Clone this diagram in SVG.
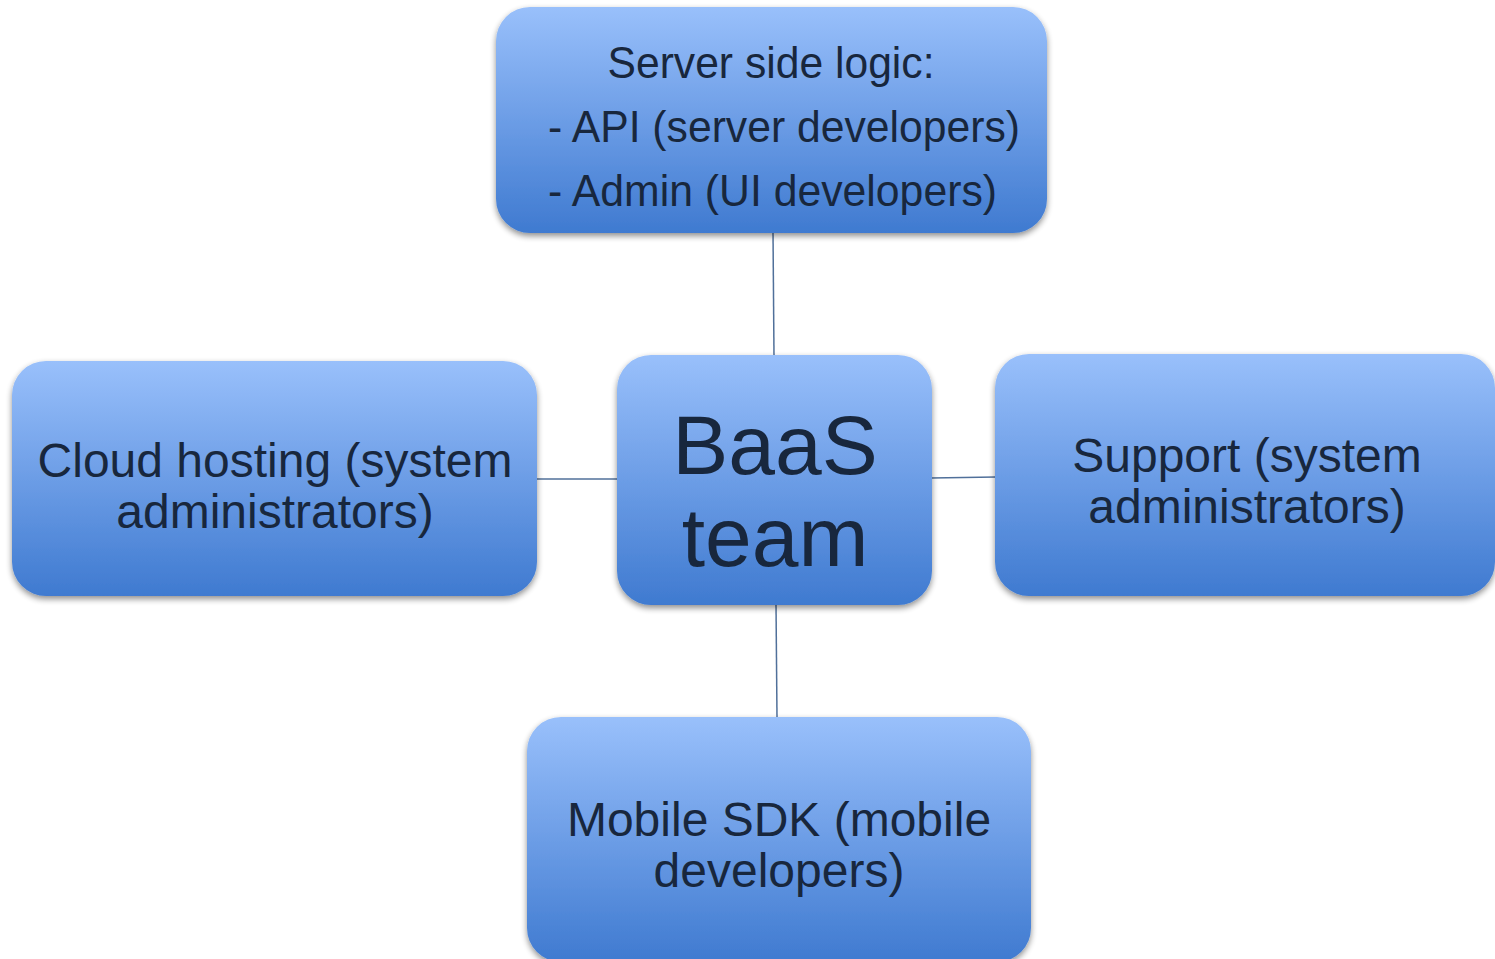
<svg xmlns="http://www.w3.org/2000/svg" width="1495" height="959" viewBox="0 0 1495 959">
<style>
.box{fill:url(#g);filter:url(#sh)}
.t{font-family:"Liberation Sans",Arial,sans-serif;fill:#18273d}
.m{font-size:48px;text-anchor:middle}
.s{font-size:44px}
.b{font-size:84px;text-anchor:middle}
.c{stroke:#50709a;stroke-width:1.5;fill:none}
</style>
<defs>
<linearGradient id="g" x1="0" y1="0" x2="0" y2="1">
<stop offset="0" stop-color="#99c0fb"/>
<stop offset="0.5" stop-color="#6c9de6"/>
<stop offset="1" stop-color="#3f7ad0"/>
</linearGradient>
<filter id="sh" x="-5%" y="-5%" width="110%" height="115%">
<feGaussianBlur in="SourceAlpha" stdDeviation="3"/>
<feOffset dx="0" dy="3" result="b"/>
<feComponentTransfer><feFuncA type="linear" slope="0.45"/></feComponentTransfer>
<feMerge><feMergeNode/><feMergeNode in="SourceGraphic"/></feMerge>
</filter>
</defs>
<rect width="1495" height="959" fill="#ffffff"/>
<g id="connectors">
<line class="c" x1="773" y1="232" x2="774" y2="356"/>
<line class="c" x1="536" y1="479" x2="618" y2="479"/>
<line class="c" x1="931" y1="478" x2="996" y2="477"/>
<line class="c" x1="776" y1="604" x2="777" y2="718"/>
</g>
<g id="server">
<rect class="box" x="496" y="7" width="551" height="226" rx="34"/>
<text class="t s" x="771" y="78" text-anchor="middle" textLength="327" lengthAdjust="spacingAndGlyphs">Server side logic:</text>
<text class="t s" x="548" y="142" textLength="472" lengthAdjust="spacingAndGlyphs">- API (server developers)</text>
<text class="t s" x="548" y="206" textLength="449" lengthAdjust="spacingAndGlyphs">- Admin (UI developers)</text>
</g>
<g id="cloud">
<rect class="box" x="12" y="361" width="525" height="235" rx="34"/>
<text class="t m" x="275" y="477">Cloud hosting (system</text>
<text class="t m" x="275" y="528">administrators)</text>
</g>
<g id="baas">
<rect class="box" x="617" y="355" width="315" height="250" rx="34"/>
<text class="t b" x="775" y="474">BaaS</text>
<text class="t b" x="775" y="566">team</text>
</g>
<g id="support">
<rect class="box" x="995" y="354" width="500" height="242" rx="34"/>
<text class="t m" x="1247" y="472">Support (system</text>
<text class="t m" x="1247" y="523">administrators)</text>
</g>
<g id="mobile">
<rect class="box" x="527" y="717" width="504" height="245" rx="34"/>
<text class="t m" x="779" y="836">Mobile SDK (mobile</text>
<text class="t m" x="779" y="887">developers)</text>
</g>
</svg>
